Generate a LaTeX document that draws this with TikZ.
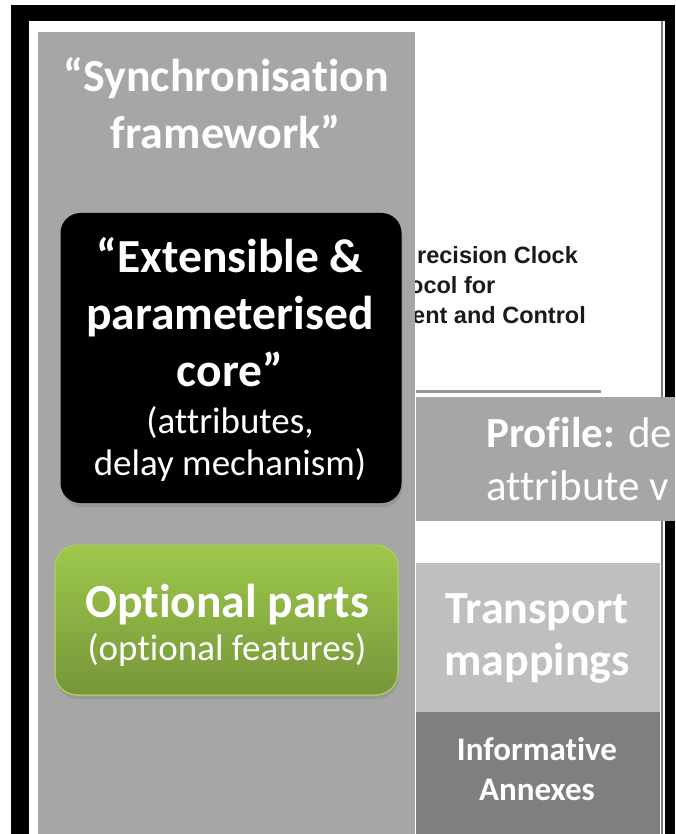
\documentclass[tikz,border=0pt]{standalone}
\usepackage{fontspec}
\setmainfont[Ligatures={TeX,NoCommon}]{Carlito}
\newfontfamily\shotfont{Liberation Sans}
\usetikzlibrary{shadows}
\definecolor{panelgray}{HTML}{A6A6A6}
\definecolor{transgray}{HTML}{BFBFBF}
\definecolor{annexgray}{HTML}{7F7F7F}
\definecolor{greentop}{HTML}{9DC84B}
\definecolor{greenbot}{HTML}{76963A}
\definecolor{greenedge}{HTML}{A9CC62}
\definecolor{shotline}{HTML}{9A9A9A}
\definecolor{shotedge}{HTML}{7A7A7A}
\definecolor{shottext}{HTML}{1A1A1A}
\begin{document}
\begin{tikzpicture}[x=1pt,y=-1pt,
  txt/.style={inner sep=0pt, anchor=base, text=white},
  bigbold/.style={txt, font=\fontsize{46}{55}\selectfont\bfseries},
  corebold/.style={txt, font=\fontsize{47.5}{55}\selectfont\bfseries},
  midreg/.style={txt, font=\fontsize{37}{44}\selectfont},
  profbold/.style={txt, anchor=base west, font=\fontsize{43}{50}\selectfont},
  annexbold/.style={txt, font=\fontsize{33}{40}\selectfont\bfseries},
  shot/.style={inner sep=0pt, anchor=base west, text=shottext, font=\shotfont\fontsize{23.5}{30}\selectfont\bfseries},
  corebox/.style={fill=black, rounded corners=20pt, minimum width=341pt, minimum height=290pt, inner sep=0pt,
    drop shadow={opacity=0.35, shadow xshift=1pt, shadow yshift=-4pt}},
  greenbox/.style={top color=greentop, bottom color=greenbot, draw=greenedge, line width=1.5pt,
    rounded corners=22pt, minimum width=343pt, minimum height=150pt, inner sep=0pt,
    drop shadow={opacity=0.35, shadow xshift=1pt, shadow yshift=-4pt}}]
\useasboundingbox (0,0) rectangle (675,834);
\fill[white] (0,0) rectangle (675,834);
% outer frame
\fill[black] (11,5) rectangle (675,834);
\fill[white] (29,21) rectangle (665,834);
% screenshot edge shadow
\fill[shotedge] (661,21) rectangle (663,834);
% screenshot title text
\node[shot] (s1) at (417,263) {recision Clock};
\node[shot] (s2) at (409,293) {ocol for};
\node[shot] (s3) at (412,323) {ent and Control};
\fill[shotline] (416,389.5) rectangle (601,392.5);
% left panel
\fill[panelgray] (38,32) rectangle (415,834);
\node[bigbold] (syn1) at (226,92) {“Synchronisation};
\node[bigbold] (syn2) at (226,149) {framework”};
% core box
\node[corebox] (core) at (231,358) {};
\node[corebold] (c1) at (230,272) {“Extensible \&};
\node[corebold] (c2) at (230,329) {parameterised};
\node[corebold] (c3) at (230,386) {core”};
\node[midreg] (c4) at (230,433) {(attributes,};
\node[midreg] (c5) at (230,475) {delay mechanism)};
% optional parts
\node[greenbox] (opt) at (226.5,620) {};
\node[corebold] (o1) at (227,617) {Optional parts};
\node[midreg] (o2) at (227,660) {(optional features)};
% profile band
\begin{scope}
\clip (0,0) rectangle (675,834);
\fill[panelgray] (416,397) rectangle (675,521);
\node[profbold] (p1) at (486,447) {\textbf{Profile:} de};
\node[profbold] (p2) at (486,500) {attribute v};
\end{scope}
% transport and annexes
\fill[transgray] (416,563) rectangle (660,712);
\fill[annexgray] (416,712) rectangle (660,834);
\node[bigbold] (t1) at (537,623) {Transport};
\node[bigbold] (t2) at (537,675) {mappings};
\node[annexbold] (a1) at (537,760) {Informative};
\node[annexbold] (a2) at (537,800) {Annexes};
\end{tikzpicture}
\end{document}
